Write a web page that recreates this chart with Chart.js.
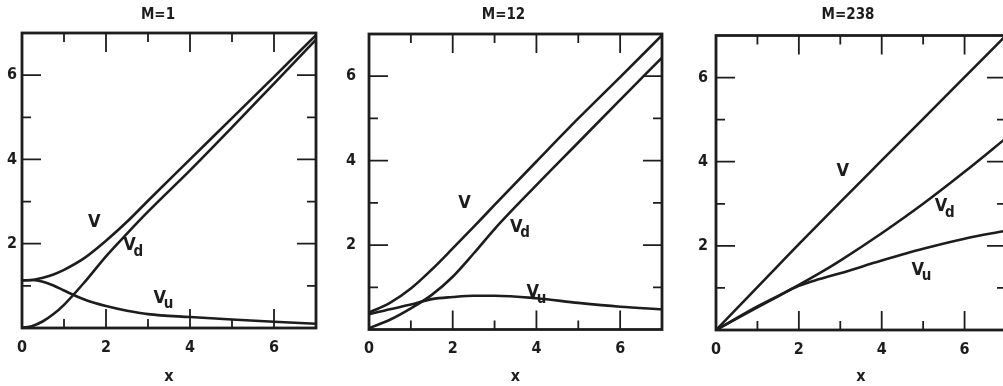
<!DOCTYPE html>
<html>
<head>
<meta charset="utf-8">
<script src="https://cdn.jsdelivr.net/npm/chart.js@4.4.1/dist/chart.umd.min.js"></script>
<style>
  html, body { margin: 0; padding: 0; background: #fff; }
  body { width: 1003px; height: 386px; overflow: hidden; position: relative; }
  canvas { position: absolute; top: 0; }
</style>
</head>
<body>
<canvas id="c1" width="360" height="386" style="left:0px"></canvas>
<canvas id="c2" width="336" height="386" style="left:345px"></canvas>
<canvas id="c3" width="330" height="386" style="left:690px"></canvas>
<script>
// M = 1
const x1  = [0, 0.25, 0.5, 0.75, 1, 1.5, 2, 2.5, 3, 4, 5, 6, 7];
const v1  = [1.13, 1.14, 1.19, 1.27, 1.38, 1.67, 2.07, 2.52, 3.02, 4.0, 4.98, 5.96, 6.95];
const vd1 = [0, 0.05, 0.16, 0.33, 0.55, 1.10, 1.70, 2.24, 2.76, 3.74, 4.76, 5.80, 6.84];
const vu1 = [1.13, 1.14, 1.10, 1.01, 0.89, 0.67, 0.52, 0.41, 0.33, 0.26, 0.20, 0.15, 0.10];

// M = 12
const x2  = [0, 0.5, 1, 1.5, 2, 2.5, 3, 4, 5, 6, 7];
const v2  = [0.40, 0.63, 0.97, 1.42, 1.92, 2.43, 2.95, 3.98, 5.0, 5.98, 6.97];
const vd2 = [0.03, 0.23, 0.50, 0.82, 1.25, 1.80, 2.38, 3.42, 4.43, 5.44, 6.44];
const vu2 = [0.36, 0.48, 0.59, 0.72, 0.77, 0.80, 0.80, 0.74, 0.63, 0.54, 0.48];

// M = 238
const x3  = [0, 1, 1.5, 2, 2.5, 3, 4, 5, 6, 7];
const v3  = [0, 1.02, 1.53, 2.04, 2.54, 3.04, 4.03, 5.02, 6.01, 7.0];
const vd3 = [0, 0.54, 0.80, 1.07, 1.35, 1.65, 2.30, 3.00, 3.76, 4.56];
const vu3 = [0, 0.56, 0.81, 1.05, 1.21, 1.35, 1.65, 1.93, 2.17, 2.36];

const xTicks = [0, 2, 4, 6];
const yTicks = [2, 4, 6];

const INK = '#1d1d1d';
const FACE = '"Liberation Sans Narrow", "DejaVu Sans Condensed", sans-serif';

// box around the plot with inward ticks on all four sides
const frameTicks = {
  id: 'frameTicks',
  afterDatasetsDraw(chart) {
    const {ctx, chartArea: a, scales: {x, y}} = chart;
    ctx.save();
    ctx.strokeStyle = INK;
    ctx.lineWidth = 1.8;
    for (let v = 1; v < 7; v++) {
      const len = v % 2 === 0 ? 19 : 9;
      const px = x.getPixelForValue(v);
      const py = y.getPixelForValue(v);
      ctx.beginPath();
      ctx.moveTo(px, a.bottom); ctx.lineTo(px, a.bottom - len);
      ctx.moveTo(px, a.top); ctx.lineTo(px, a.top + len);
      ctx.moveTo(a.left, py); ctx.lineTo(a.left + len, py);
      ctx.moveTo(a.right, py); ctx.lineTo(a.right - len, py);
      ctx.stroke();
    }
    ctx.lineWidth = 2.8;
    ctx.strokeRect(a.left, a.top, a.right - a.left, a.bottom - a.top);
    ctx.restore();
  }
};

// V, Vd, Vu names written next to the curves
const curveLabels = {
  id: 'curveLabels',
  afterDatasetsDraw(chart, args, opts) {
    const {ctx, scales: {x, y}} = chart;
    ctx.save();
    ctx.fillStyle = INK;
    ctx.textBaseline = 'middle';
    opts.items.forEach(it => {
      const px = x.getPixelForValue(it.at[0]);
      const py = y.getPixelForValue(it.at[1]);
      ctx.font = 'bold 18px ' + FACE;
      ctx.textAlign = 'center';
      ctx.fillText('V', px, py);
      if (it.sub) {
        ctx.font = 'bold 15px ' + FACE;
        ctx.textAlign = 'left';
        ctx.fillText(it.sub, px + 4, py + 6);
      }
    });
    ctx.restore();
  }
};

function panel(id, title, xs, v, vd, vu, box, labels) {
  const pts = arr => xs.map((x, i) => ({x: x, y: arr[i]}));
  const tickFont = {family: FACE, size: 16, weight: 'bold'};
  new Chart(document.getElementById(id), {
    type: 'line',
    data: {
      datasets: [v, vd, vu].map(arr => ({
        data: pts(arr),
        borderColor: INK,
        borderWidth: 2.6,
        pointRadius: 0,
        fill: false,
        cubicInterpolationMode: 'monotone'
      }))
    },
    options: {
      responsive: false,
      animation: false,
      devicePixelRatio: 1,
      layout: {padding: {left: 0, right: box.right, top: 0, bottom: 0}},
      plugins: {
        legend: {display: false},
        tooltip: {enabled: false},
        title: {
          display: true, text: title, color: INK,
          font: {family: FACE, size: 15, weight: 'bold'},
          padding: {top: 6, bottom: box.titleGap}
        },
        curveLabels: {items: labels}
      },
      scales: {
        x: {
          type: 'linear', min: 0, max: 7,
          grid: {display: false, drawTicks: false}, border: {display: false},
          afterBuildTicks: s => { s.ticks = xTicks.map(t => ({value: t})); },
          ticks: {padding: 10, color: INK, font: tickFont},
          title: {display: true, text: 'x', color: INK, font: {family: FACE, size: 16, weight: 'bold'}, padding: {top: 0, bottom: 0}},
          afterFit: s => { s.height = box.xh; }
        },
        y: {
          type: 'linear', min: 0, max: 7,
          grid: {display: false, drawTicks: false}, border: {display: false},
          afterBuildTicks: s => { s.ticks = yTicks.map(t => ({value: t})); },
          ticks: {padding: box.ypad, color: INK, font: tickFont},
          afterFit: s => { s.width = box.yw; }
        }
      }
    },
    plugins: [frameTicks, curveLabels]
  });
}

panel('c1', 'M=1', x1, v1, vd1, vu1,
  {right: 44, titleGap: 9, xh: 58, yw: 22, ypad: 5},
  [{at: [1.72, 2.5]}, {at: [2.56, 1.95], sub: 'd'}, {at: [3.28, 0.7], sub: 'u'}]);

panel('c2', 'M=12', x2, v2, vd2, vu2,
  {right: 19, titleGap: 10, xh: 56.5, yw: 24, ypad: 13},
  [{at: [2.28, 2.99]}, {at: [3.52, 2.42], sub: 'd'}, {at: [3.91, 0.87], sub: 'u'}]);

panel('c3', 'M=238', x3, v3, vd3, vu3,
  {right: 14, titleGap: 11.5, xh: 56, yw: 26, ypad: 8},
  [{at: [3.06, 3.76]}, {at: [5.43, 2.93], sub: 'd'}, {at: [4.87, 1.43], sub: 'u'}]);
</script>
</body>
</html>
